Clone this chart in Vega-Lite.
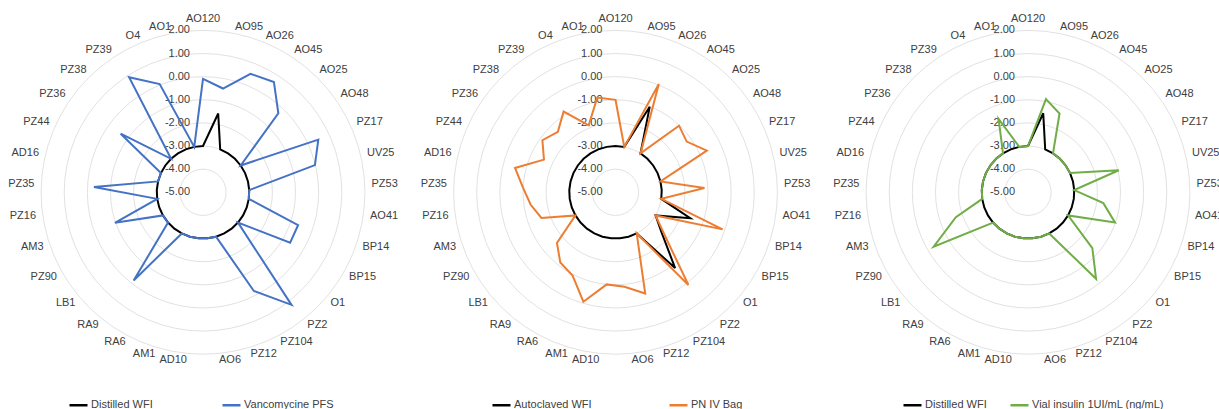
{
"$schema": "https://vega.github.io/schema/vega-lite/v6.json",
"padding": 0,
"bounds": "flush",
"spacing": 6.5,
"background": "white",
"resolve": {"scale": {"color": "independent", "x": "independent", "y": "independent", "size": "independent"}, "legend": {"color": "independent"}},
"config": {"view": {"stroke": null}, "font": "Liberation Sans",
  "legend": {"title": null, "direction": "horizontal", "orient": "none", "symbolType": "stroke", "symbolSize": 324, "symbolStrokeWidth": 2.5, "labelFontSize": 11, "labelFont": "Liberation Sans", "labelColor": "#404040", "labelOffset": 2, "padding": 0}},
"datasets": {
"grid": [{"level": 2, "label": "2.00"}, {"level": 1, "label": "1.00"}, {"level": 0, "label": "0.00"}, {"level": -1, "label": "-1.00"}, {"level": -2, "label": "-2.00"}, {"level": -3, "label": "-3.00"}, {"level": -4, "label": "-4.00"}, {"level": -5, "label": "-5.00"}],
"cats": [{"cat": "AO120"}, {"cat": "AO95"}, {"cat": "AO26"}, {"cat": "AO45"}, {"cat": "AO25"}, {"cat": "AO48"}, {"cat": "PZ17"}, {"cat": "UV25"}, {"cat": "PZ53"}, {"cat": "AO41"}, {"cat": "BP14"}, {"cat": "BP15"}, {"cat": "O1"}, {"cat": "PZ2"}, {"cat": "PZ104"}, {"cat": "PZ12"}, {"cat": "AO6"}, {"cat": "AD10"}, {"cat": "AM1"}, {"cat": "RA6"}, {"cat": "RA9"}, {"cat": "LB1"}, {"cat": "PZ90"}, {"cat": "AM3"}, {"cat": "PZ16"}, {"cat": "PZ35"}, {"cat": "AD16"}, {"cat": "PZ44"}, {"cat": "PZ36"}, {"cat": "PZ38"}, {"cat": "PZ39"}, {"cat": "O4"}, {"cat": "AO1"}],
"p1": [
{"series": "Distilled WFI", "cat": "AO120", "value": -3}, {"series": "Distilled WFI", "cat": "AO95", "value": -1.53}, {"series": "Distilled WFI", "cat": "AO26", "value": -3}, {"series": "Distilled WFI", "cat": "AO45", "value": -3}, {"series": "Distilled WFI", "cat": "AO25", "value": -3}, {"series": "Distilled WFI", "cat": "AO48", "value": -3}, {"series": "Distilled WFI", "cat": "PZ17", "value": -3}, {"series": "Distilled WFI", "cat": "UV25", "value": -3}, {"series": "Distilled WFI", "cat": "PZ53", "value": -3}, {"series": "Distilled WFI", "cat": "AO41", "value": -3}, {"series": "Distilled WFI", "cat": "BP14", "value": -3}, {"series": "Distilled WFI", "cat": "BP15", "value": -3}, {"series": "Distilled WFI", "cat": "O1", "value": -3}, {"series": "Distilled WFI", "cat": "PZ2", "value": -3}, {"series": "Distilled WFI", "cat": "PZ104", "value": -3}, {"series": "Distilled WFI", "cat": "PZ12", "value": -3}, {"series": "Distilled WFI", "cat": "AO6", "value": -3}, {"series": "Distilled WFI", "cat": "AD10", "value": -3}, {"series": "Distilled WFI", "cat": "AM1", "value": -3}, {"series": "Distilled WFI", "cat": "RA6", "value": -3}, {"series": "Distilled WFI", "cat": "RA9", "value": -3}, {"series": "Distilled WFI", "cat": "LB1", "value": -3}, {"series": "Distilled WFI", "cat": "PZ90", "value": -3}, {"series": "Distilled WFI", "cat": "AM3", "value": -3}, {"series": "Distilled WFI", "cat": "PZ16", "value": -3}, {"series": "Distilled WFI", "cat": "PZ35", "value": -3}, {"series": "Distilled WFI", "cat": "AD16", "value": -3}, {"series": "Distilled WFI", "cat": "PZ44", "value": -3}, {"series": "Distilled WFI", "cat": "PZ36", "value": -3}, {"series": "Distilled WFI", "cat": "PZ38", "value": -3}, {"series": "Distilled WFI", "cat": "PZ39", "value": -3}, {"series": "Distilled WFI", "cat": "O4", "value": -3}, {"series": "Distilled WFI", "cat": "AO1", "value": -3},
{"series": "Vancomycine PFS", "cat": "AO120", "value": -0.1}, {"series": "Vancomycine PFS", "cat": "AO95", "value": -0.43}, {"series": "Vancomycine PFS", "cat": "AO26", "value": 0.52}, {"series": "Vancomycine PFS", "cat": "AO45", "value": 0.67}, {"series": "Vancomycine PFS", "cat": "AO25", "value": -0.28}, {"series": "Vancomycine PFS", "cat": "AO48", "value": -3}, {"series": "Vancomycine PFS", "cat": "PZ17", "value": 0.48}, {"series": "Vancomycine PFS", "cat": "UV25", "value": -0.02}, {"series": "Vancomycine PFS", "cat": "PZ53", "value": -3}, {"series": "Vancomycine PFS", "cat": "AO41", "value": -3}, {"series": "Vancomycine PFS", "cat": "BP14", "value": -0.65}, {"series": "Vancomycine PFS", "cat": "BP15", "value": -0.65}, {"series": "Vancomycine PFS", "cat": "O1", "value": -3}, {"series": "Vancomycine PFS", "cat": "PZ2", "value": 1.19}, {"series": "Vancomycine PFS", "cat": "PZ104", "value": -0.2}, {"series": "Vancomycine PFS", "cat": "PZ12", "value": -3}, {"series": "Vancomycine PFS", "cat": "AO6", "value": -3}, {"series": "Vancomycine PFS", "cat": "AD10", "value": -3}, {"series": "Vancomycine PFS", "cat": "AM1", "value": -3}, {"series": "Vancomycine PFS", "cat": "RA6", "value": -3}, {"series": "Vancomycine PFS", "cat": "RA9", "value": -0.15}, {"series": "Vancomycine PFS", "cat": "LB1", "value": -3}, {"series": "Vancomycine PFS", "cat": "PZ90", "value": -3}, {"series": "Vancomycine PFS", "cat": "AM3", "value": -0.97}, {"series": "Vancomycine PFS", "cat": "PZ16", "value": -3}, {"series": "Vancomycine PFS", "cat": "PZ35", "value": -0.28}, {"series": "Vancomycine PFS", "cat": "AD16", "value": -3}, {"series": "Vancomycine PFS", "cat": "PZ44", "value": -3}, {"series": "Vancomycine PFS", "cat": "PZ36", "value": -0.63}, {"series": "Vancomycine PFS", "cat": "PZ38", "value": -3}, {"series": "Vancomycine PFS", "cat": "PZ39", "value": 0.91}, {"series": "Vancomycine PFS", "cat": "O4", "value": 0.04}, {"series": "Vancomycine PFS", "cat": "AO1", "value": -3}
],
"p2": [
{"series": "Autoclaved WFI", "cat": "AO120", "value": -3}, {"series": "Autoclaved WFI", "cat": "AO95", "value": -3}, {"series": "Autoclaved WFI", "cat": "AO26", "value": -1.02}, {"series": "Autoclaved WFI", "cat": "AO45", "value": -3}, {"series": "Autoclaved WFI", "cat": "AO25", "value": -3}, {"series": "Autoclaved WFI", "cat": "AO48", "value": -3}, {"series": "Autoclaved WFI", "cat": "PZ17", "value": -3}, {"series": "Autoclaved WFI", "cat": "UV25", "value": -3}, {"series": "Autoclaved WFI", "cat": "PZ53", "value": -3}, {"series": "Autoclaved WFI", "cat": "AO41", "value": -3}, {"series": "Autoclaved WFI", "cat": "BP14", "value": -1.58}, {"series": "Autoclaved WFI", "cat": "BP15", "value": -3}, {"series": "Autoclaved WFI", "cat": "O1", "value": -2.37}, {"series": "Autoclaved WFI", "cat": "PZ2", "value": -0.83}, {"series": "Autoclaved WFI", "cat": "PZ104", "value": -3}, {"series": "Autoclaved WFI", "cat": "PZ12", "value": -3}, {"series": "Autoclaved WFI", "cat": "AO6", "value": -3}, {"series": "Autoclaved WFI", "cat": "AD10", "value": -3}, {"series": "Autoclaved WFI", "cat": "AM1", "value": -3}, {"series": "Autoclaved WFI", "cat": "RA6", "value": -3}, {"series": "Autoclaved WFI", "cat": "RA9", "value": -3}, {"series": "Autoclaved WFI", "cat": "LB1", "value": -3}, {"series": "Autoclaved WFI", "cat": "PZ90", "value": -3}, {"series": "Autoclaved WFI", "cat": "AM3", "value": -3}, {"series": "Autoclaved WFI", "cat": "PZ16", "value": -3}, {"series": "Autoclaved WFI", "cat": "PZ35", "value": -3}, {"series": "Autoclaved WFI", "cat": "AD16", "value": -3}, {"series": "Autoclaved WFI", "cat": "PZ44", "value": -3}, {"series": "Autoclaved WFI", "cat": "PZ36", "value": -3}, {"series": "Autoclaved WFI", "cat": "PZ38", "value": -3}, {"series": "Autoclaved WFI", "cat": "PZ39", "value": -3}, {"series": "Autoclaved WFI", "cat": "O4", "value": -3}, {"series": "Autoclaved WFI", "cat": "AO1", "value": -3},
{"series": "PN IV Bag", "cat": "AO120", "value": -1.0}, {"series": "PN IV Bag", "cat": "AO95", "value": -3}, {"series": "PN IV Bag", "cat": "AO26", "value": 0.04}, {"series": "PN IV Bag", "cat": "AO45", "value": -3}, {"series": "PN IV Bag", "cat": "AO25", "value": -1.02}, {"series": "PN IV Bag", "cat": "AO48", "value": -1.22}, {"series": "PN IV Bag", "cat": "PZ17", "value": -0.66}, {"series": "PN IV Bag", "cat": "UV25", "value": -3}, {"series": "PN IV Bag", "cat": "PZ53", "value": -1.15}, {"series": "PN IV Bag", "cat": "AO41", "value": -3}, {"series": "PN IV Bag", "cat": "BP14", "value": -0.1}, {"series": "PN IV Bag", "cat": "BP15", "value": -3}, {"series": "PN IV Bag", "cat": "O1", "value": -2.2}, {"series": "PN IV Bag", "cat": "PZ2", "value": 0.1}, {"series": "PN IV Bag", "cat": "PZ104", "value": -3}, {"series": "PN IV Bag", "cat": "PZ12", "value": -0.44}, {"series": "PN IV Bag", "cat": "AO6", "value": -0.9}, {"series": "PN IV Bag", "cat": "AD10", "value": -1.0}, {"series": "PN IV Bag", "cat": "AM1", "value": -0.07}, {"series": "PN IV Bag", "cat": "RA6", "value": -0.95}, {"series": "PN IV Bag", "cat": "RA9", "value": -1.14}, {"series": "PN IV Bag", "cat": "LB1", "value": -1.65}, {"series": "PN IV Bag", "cat": "PZ90", "value": -3}, {"series": "PN IV Bag", "cat": "AM3", "value": -1.61}, {"series": "PN IV Bag", "cat": "PZ16", "value": -1.29}, {"series": "PN IV Bag", "cat": "PZ35", "value": -1.0}, {"series": "PN IV Bag", "cat": "AD16", "value": -0.53}, {"series": "PN IV Bag", "cat": "PZ44", "value": -1.6}, {"series": "PN IV Bag", "cat": "PZ36", "value": -1.12}, {"series": "PN IV Bag", "cat": "PZ38", "value": -1.39}, {"series": "PN IV Bag", "cat": "PZ39", "value": -0.85}, {"series": "PN IV Bag", "cat": "O4", "value": -1.88}, {"series": "PN IV Bag", "cat": "AO1", "value": -0.83}
],
"p3": [
{"series": "Distilled WFI", "cat": "AO120", "value": -3}, {"series": "Distilled WFI", "cat": "AO95", "value": -1.52}, {"series": "Distilled WFI", "cat": "AO26", "value": -3}, {"series": "Distilled WFI", "cat": "AO45", "value": -3}, {"series": "Distilled WFI", "cat": "AO25", "value": -3}, {"series": "Distilled WFI", "cat": "AO48", "value": -3}, {"series": "Distilled WFI", "cat": "PZ17", "value": -3}, {"series": "Distilled WFI", "cat": "UV25", "value": -3}, {"series": "Distilled WFI", "cat": "PZ53", "value": -3}, {"series": "Distilled WFI", "cat": "AO41", "value": -3}, {"series": "Distilled WFI", "cat": "BP14", "value": -3}, {"series": "Distilled WFI", "cat": "BP15", "value": -3}, {"series": "Distilled WFI", "cat": "O1", "value": -3}, {"series": "Distilled WFI", "cat": "PZ2", "value": -3}, {"series": "Distilled WFI", "cat": "PZ104", "value": -3}, {"series": "Distilled WFI", "cat": "PZ12", "value": -3}, {"series": "Distilled WFI", "cat": "AO6", "value": -3}, {"series": "Distilled WFI", "cat": "AD10", "value": -3}, {"series": "Distilled WFI", "cat": "AM1", "value": -3}, {"series": "Distilled WFI", "cat": "RA6", "value": -3}, {"series": "Distilled WFI", "cat": "RA9", "value": -3}, {"series": "Distilled WFI", "cat": "LB1", "value": -3}, {"series": "Distilled WFI", "cat": "PZ90", "value": -3}, {"series": "Distilled WFI", "cat": "AM3", "value": -3}, {"series": "Distilled WFI", "cat": "PZ16", "value": -3}, {"series": "Distilled WFI", "cat": "PZ35", "value": -3}, {"series": "Distilled WFI", "cat": "AD16", "value": -3}, {"series": "Distilled WFI", "cat": "PZ44", "value": -3}, {"series": "Distilled WFI", "cat": "PZ36", "value": -3}, {"series": "Distilled WFI", "cat": "PZ38", "value": -3}, {"series": "Distilled WFI", "cat": "PZ39", "value": -3}, {"series": "Distilled WFI", "cat": "O4", "value": -3}, {"series": "Distilled WFI", "cat": "AO1", "value": -3},
{"series": "Vial insulin 1UI/mL (ng/mL)", "cat": "AO120", "value": -3}, {"series": "Vial insulin 1UI/mL (ng/mL)", "cat": "AO95", "value": -0.9}, {"series": "Vial insulin 1UI/mL (ng/mL)", "cat": "AO26", "value": -1.33}, {"series": "Vial insulin 1UI/mL (ng/mL)", "cat": "AO45", "value": -3}, {"series": "Vial insulin 1UI/mL (ng/mL)", "cat": "AO25", "value": -3}, {"series": "Vial insulin 1UI/mL (ng/mL)", "cat": "AO48", "value": -3}, {"series": "Vial insulin 1UI/mL (ng/mL)", "cat": "PZ17", "value": -3}, {"series": "Vial insulin 1UI/mL (ng/mL)", "cat": "UV25", "value": -0.96}, {"series": "Vial insulin 1UI/mL (ng/mL)", "cat": "PZ53", "value": -3}, {"series": "Vial insulin 1UI/mL (ng/mL)", "cat": "AO41", "value": -1.71}, {"series": "Vial insulin 1UI/mL (ng/mL)", "cat": "BP14", "value": -1.02}, {"series": "Vial insulin 1UI/mL (ng/mL)", "cat": "BP15", "value": -3}, {"series": "Vial insulin 1UI/mL (ng/mL)", "cat": "O1", "value": -1.32}, {"series": "Vial insulin 1UI/mL (ng/mL)", "cat": "PZ2", "value": -0.24}, {"series": "Vial insulin 1UI/mL (ng/mL)", "cat": "PZ104", "value": -3}, {"series": "Vial insulin 1UI/mL (ng/mL)", "cat": "PZ12", "value": -3}, {"series": "Vial insulin 1UI/mL (ng/mL)", "cat": "AO6", "value": -3}, {"series": "Vial insulin 1UI/mL (ng/mL)", "cat": "AD10", "value": -3}, {"series": "Vial insulin 1UI/mL (ng/mL)", "cat": "AM1", "value": -3}, {"series": "Vial insulin 1UI/mL (ng/mL)", "cat": "RA6", "value": -3}, {"series": "Vial insulin 1UI/mL (ng/mL)", "cat": "RA9", "value": -3}, {"series": "Vial insulin 1UI/mL (ng/mL)", "cat": "LB1", "value": -3}, {"series": "Vial insulin 1UI/mL (ng/mL)", "cat": "PZ90", "value": -0.29}, {"series": "Vial insulin 1UI/mL (ng/mL)", "cat": "AM3", "value": -1.7}, {"series": "Vial insulin 1UI/mL (ng/mL)", "cat": "PZ16", "value": -3}, {"series": "Vial insulin 1UI/mL (ng/mL)", "cat": "PZ35", "value": -3}, {"series": "Vial insulin 1UI/mL (ng/mL)", "cat": "AD16", "value": -3}, {"series": "Vial insulin 1UI/mL (ng/mL)", "cat": "PZ44", "value": -3}, {"series": "Vial insulin 1UI/mL (ng/mL)", "cat": "PZ36", "value": -3}, {"series": "Vial insulin 1UI/mL (ng/mL)", "cat": "PZ38", "value": -3}, {"series": "Vial insulin 1UI/mL (ng/mL)", "cat": "PZ39", "value": -3}, {"series": "Vial insulin 1UI/mL (ng/mL)", "cat": "O4", "value": -1.58}, {"series": "Vial insulin 1UI/mL (ng/mL)", "cat": "AO1", "value": -3}
]
},
"hconcat": [
{
"width": 406, "height": 409,
"layer": [
{"data": {"name": "grid"}, "transform": [{"filter": "datum.level > -5"}, {"calculate": "datum.level + 5", "as": "r"}],
 "mark": {"type": "point", "shape": "circle", "filled": false, "stroke": "#d9d9d9", "strokeWidth": 0.8, "opacity": 1},
 "encoding": {"x": {"datum": 0, "type": "quantitative", "scale": {"domain": [-8.7765, 8.7765], "nice": false, "zero": false}, "axis": null},
  "y": {"datum": 0, "type": "quantitative", "scale": {"domain": [-9.369, 8.314], "nice": false, "zero": false}, "axis": null},
  "size": {"field": "r", "type": "quantitative", "scale": {"type": "pow", "exponent": 2, "domain": [0, 7], "range": [0, 104846]}, "legend": null}}},
{"data": {"name": "grid"}, "transform": [{"calculate": "datum.level + 5", "as": "r"}],
 "mark": {"type": "text", "align": "right", "baseline": "middle", "dx": -13, "fontSize": 11, "color": "#404040"},
 "encoding": {"x": {"datum": 0, "type": "quantitative"}, "y": {"field": "r", "type": "quantitative"}, "text": {"field": "label"}}},
{"data": {"name": "cats"}, "transform": [{"window": [{"op": "row_number", "as": "i"}]}, {"calculate": "2*PI*(datum.i-1)/33", "as": "t"}, {"calculate": "7.294*sin(datum.t)", "as": "lx"}, {"calculate": "7.294*cos(datum.t)", "as": "ly"}, {"filter": "sin(datum.t) > 0.01"}],
 "mark": {"type": "text", "align": "left", "baseline": "middle", "fontSize": 11, "color": "#404040"},
 "encoding": {"x": {"field": "lx", "type": "quantitative"}, "y": {"field": "ly", "type": "quantitative"}, "text": {"field": "cat"}}},
{"data": {"name": "cats"}, "transform": [{"window": [{"op": "row_number", "as": "i"}]}, {"calculate": "2*PI*(datum.i-1)/33", "as": "t"}, {"calculate": "7.294*sin(datum.t)", "as": "lx"}, {"calculate": "7.294*cos(datum.t)", "as": "ly"}, {"filter": "sin(datum.t) < -0.01"}],
 "mark": {"type": "text", "align": "right", "baseline": "middle", "fontSize": 11, "color": "#404040"},
 "encoding": {"x": {"field": "lx", "type": "quantitative"}, "y": {"field": "ly", "type": "quantitative"}, "text": {"field": "cat"}}},
{"data": {"name": "cats"}, "transform": [{"window": [{"op": "row_number", "as": "i"}]}, {"calculate": "2*PI*(datum.i-1)/33", "as": "t"}, {"calculate": "7.294*sin(datum.t)", "as": "lx"}, {"calculate": "7.294*cos(datum.t)", "as": "ly"}, {"filter": "abs(sin(datum.t)) <= 0.01"}],
 "mark": {"type": "text", "align": "center", "baseline": "bottom", "fontSize": 11, "color": "#404040"},
 "encoding": {"x": {"field": "lx", "type": "quantitative"}, "y": {"field": "ly", "type": "quantitative"}, "text": {"field": "cat"}}},
{"data": {"name": "p1"}, "transform": [{"window": [{"op": "row_number", "as": "i"}], "groupby": ["series"]}, {"calculate": "2*PI*(datum.i-1)/33", "as": "t"}, {"calculate": "(datum.value+5)*sin(datum.t)", "as": "px"}, {"calculate": "(datum.value+5)*cos(datum.t)", "as": "py"}],
 "mark": {"type": "line", "interpolate": "linear-closed", "strokeWidth": 2},
 "encoding": {"x": {"field": "px", "type": "quantitative"}, "y": {"field": "py", "type": "quantitative"}, "order": {"field": "i", "type": "quantitative"},
  "color": {"field": "series", "type": "nominal", "scale": {"domain": ["Distilled WFI", "Vancomycine PFS"], "range": ["#000000", "#4472C4"]},
   "legend": {"orient": "none", "legendX": 68, "legendY": 394.5, "direction": "horizontal", "columnPadding": 64}}}}
]
},
{
"width": 406, "height": 409,
"layer": [
{"data": {"name": "grid"}, "transform": [{"filter": "datum.level > -5"}, {"calculate": "datum.level + 5", "as": "r"}],
 "mark": {"type": "point", "shape": "circle", "filled": false, "stroke": "#d9d9d9", "strokeWidth": 0.8, "opacity": 1},
 "encoding": {"x": {"datum": 0, "type": "quantitative", "scale": {"domain": [-8.7765, 8.7765], "nice": false, "zero": false}, "axis": null},
  "y": {"datum": 0, "type": "quantitative", "scale": {"domain": [-9.369, 8.314], "nice": false, "zero": false}, "axis": null},
  "size": {"field": "r", "type": "quantitative", "scale": {"type": "pow", "exponent": 2, "domain": [0, 7], "range": [0, 104846]}, "legend": null}}},
{"data": {"name": "grid"}, "transform": [{"calculate": "datum.level + 5", "as": "r"}],
 "mark": {"type": "text", "align": "right", "baseline": "middle", "dx": -13, "fontSize": 11, "color": "#404040"},
 "encoding": {"x": {"datum": 0, "type": "quantitative"}, "y": {"field": "r", "type": "quantitative"}, "text": {"field": "label"}}},
{"data": {"name": "cats"}, "transform": [{"window": [{"op": "row_number", "as": "i"}]}, {"calculate": "2*PI*(datum.i-1)/33", "as": "t"}, {"calculate": "7.294*sin(datum.t)", "as": "lx"}, {"calculate": "7.294*cos(datum.t)", "as": "ly"}, {"filter": "sin(datum.t) > 0.01"}],
 "mark": {"type": "text", "align": "left", "baseline": "middle", "fontSize": 11, "color": "#404040"},
 "encoding": {"x": {"field": "lx", "type": "quantitative"}, "y": {"field": "ly", "type": "quantitative"}, "text": {"field": "cat"}}},
{"data": {"name": "cats"}, "transform": [{"window": [{"op": "row_number", "as": "i"}]}, {"calculate": "2*PI*(datum.i-1)/33", "as": "t"}, {"calculate": "7.294*sin(datum.t)", "as": "lx"}, {"calculate": "7.294*cos(datum.t)", "as": "ly"}, {"filter": "sin(datum.t) < -0.01"}],
 "mark": {"type": "text", "align": "right", "baseline": "middle", "fontSize": 11, "color": "#404040"},
 "encoding": {"x": {"field": "lx", "type": "quantitative"}, "y": {"field": "ly", "type": "quantitative"}, "text": {"field": "cat"}}},
{"data": {"name": "cats"}, "transform": [{"window": [{"op": "row_number", "as": "i"}]}, {"calculate": "2*PI*(datum.i-1)/33", "as": "t"}, {"calculate": "7.294*sin(datum.t)", "as": "lx"}, {"calculate": "7.294*cos(datum.t)", "as": "ly"}, {"filter": "abs(sin(datum.t)) <= 0.01"}],
 "mark": {"type": "text", "align": "center", "baseline": "bottom", "fontSize": 11, "color": "#404040"},
 "encoding": {"x": {"field": "lx", "type": "quantitative"}, "y": {"field": "ly", "type": "quantitative"}, "text": {"field": "cat"}}},
{"data": {"name": "p2"}, "transform": [{"window": [{"op": "row_number", "as": "i"}], "groupby": ["series"]}, {"calculate": "2*PI*(datum.i-1)/33", "as": "t"}, {"calculate": "(datum.value+5)*sin(datum.t)", "as": "px"}, {"calculate": "(datum.value+5)*cos(datum.t)", "as": "py"}],
 "mark": {"type": "line", "interpolate": "linear-closed", "strokeWidth": 2},
 "encoding": {"x": {"field": "px", "type": "quantitative"}, "y": {"field": "py", "type": "quantitative"}, "order": {"field": "i", "type": "quantitative"},
  "color": {"field": "series", "type": "nominal", "scale": {"domain": ["Autoclaved WFI", "PN IV Bag"], "range": ["#000000", "#ED7D31"]},
   "legend": {"orient": "none", "legendX": 78.5, "legendY": 394.5, "direction": "horizontal", "columnPadding": 72}}}}
]
},
{
"width": 406, "height": 409,
"layer": [
{"data": {"name": "grid"}, "transform": [{"filter": "datum.level > -5"}, {"calculate": "datum.level + 5", "as": "r"}],
 "mark": {"type": "point", "shape": "circle", "filled": false, "stroke": "#d9d9d9", "strokeWidth": 0.8, "opacity": 1},
 "encoding": {"x": {"datum": 0, "type": "quantitative", "scale": {"domain": [-8.7765, 8.7765], "nice": false, "zero": false}, "axis": null},
  "y": {"datum": 0, "type": "quantitative", "scale": {"domain": [-9.369, 8.314], "nice": false, "zero": false}, "axis": null},
  "size": {"field": "r", "type": "quantitative", "scale": {"type": "pow", "exponent": 2, "domain": [0, 7], "range": [0, 104846]}, "legend": null}}},
{"data": {"name": "grid"}, "transform": [{"calculate": "datum.level + 5", "as": "r"}],
 "mark": {"type": "text", "align": "right", "baseline": "middle", "dx": -13, "fontSize": 11, "color": "#404040"},
 "encoding": {"x": {"datum": 0, "type": "quantitative"}, "y": {"field": "r", "type": "quantitative"}, "text": {"field": "label"}}},
{"data": {"name": "cats"}, "transform": [{"window": [{"op": "row_number", "as": "i"}]}, {"calculate": "2*PI*(datum.i-1)/33", "as": "t"}, {"calculate": "7.294*sin(datum.t)", "as": "lx"}, {"calculate": "7.294*cos(datum.t)", "as": "ly"}, {"filter": "sin(datum.t) > 0.01"}],
 "mark": {"type": "text", "align": "left", "baseline": "middle", "fontSize": 11, "color": "#404040"},
 "encoding": {"x": {"field": "lx", "type": "quantitative"}, "y": {"field": "ly", "type": "quantitative"}, "text": {"field": "cat"}}},
{"data": {"name": "cats"}, "transform": [{"window": [{"op": "row_number", "as": "i"}]}, {"calculate": "2*PI*(datum.i-1)/33", "as": "t"}, {"calculate": "7.294*sin(datum.t)", "as": "lx"}, {"calculate": "7.294*cos(datum.t)", "as": "ly"}, {"filter": "sin(datum.t) < -0.01"}],
 "mark": {"type": "text", "align": "right", "baseline": "middle", "fontSize": 11, "color": "#404040"},
 "encoding": {"x": {"field": "lx", "type": "quantitative"}, "y": {"field": "ly", "type": "quantitative"}, "text": {"field": "cat"}}},
{"data": {"name": "cats"}, "transform": [{"window": [{"op": "row_number", "as": "i"}]}, {"calculate": "2*PI*(datum.i-1)/33", "as": "t"}, {"calculate": "7.294*sin(datum.t)", "as": "lx"}, {"calculate": "7.294*cos(datum.t)", "as": "ly"}, {"filter": "abs(sin(datum.t)) <= 0.01"}],
 "mark": {"type": "text", "align": "center", "baseline": "bottom", "fontSize": 11, "color": "#404040"},
 "encoding": {"x": {"field": "lx", "type": "quantitative"}, "y": {"field": "ly", "type": "quantitative"}, "text": {"field": "cat"}}},
{"data": {"name": "p3"}, "transform": [{"window": [{"op": "row_number", "as": "i"}], "groupby": ["series"]}, {"calculate": "2*PI*(datum.i-1)/33", "as": "t"}, {"calculate": "(datum.value+5)*sin(datum.t)", "as": "px"}, {"calculate": "(datum.value+5)*cos(datum.t)", "as": "py"}],
 "mark": {"type": "line", "interpolate": "linear-closed", "strokeWidth": 2},
 "encoding": {"x": {"field": "px", "type": "quantitative"}, "y": {"field": "py", "type": "quantitative"}, "order": {"field": "i", "type": "quantitative"},
  "color": {"field": "series", "type": "nominal", "scale": {"domain": ["Distilled WFI", "Vial insulin 1UI/mL (ng/mL)"], "range": ["#000000", "#70AD47"]},
   "legend": {"orient": "none", "legendX": 77, "legendY": 394.5, "direction": "horizontal", "columnPadding": 18}}}}
]
}
]
}
